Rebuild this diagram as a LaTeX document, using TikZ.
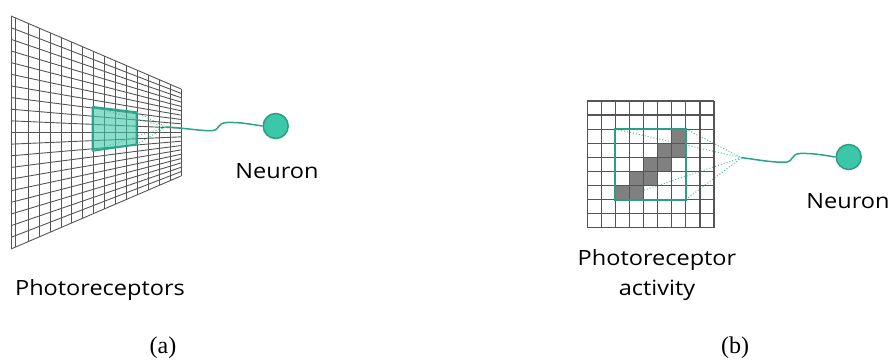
\documentclass[tikz,border=0pt]{standalone}
\usepackage{fontspec}
\setmainfont{Liberation Serif}
\newfontfamily\labelfont[FakeStretch=1.12]{Open Sans}
\definecolor{gridc}{HTML}{555555}
\definecolor{tealline}{HTML}{2AA587}
\definecolor{tealfill}{HTML}{3CC8A8}
\definecolor{tealdark}{HTML}{2E9E82}
\definecolor{tealdot}{HTML}{4FBF9F}
\definecolor{cellgray}{HTML}{808080}
\tikzset{
  gridline/.style={draw=gridc, line width=0.9pt},
  rgridline/.style={draw=gridc, line width=1.2pt},
  dotl/.style={draw=tealdot, dotted, line width=1pt},
  axon/.style={draw=tealline, line width=1.5pt},
  neuron/.style={circle, fill=tealfill, draw=tealdark, line width=1.5pt, minimum size=25pt, inner sep=0pt},
  lbl/.style={font=\labelfont\fontsize{21}{30}\selectfont, text=black, align=center, inner sep=0pt},
  sublbl/.style={font=\fontsize{24}{28}\selectfont, inner sep=0pt},
}
\begin{document}
\begin{tikzpicture}[x=1pt,y=-1pt]
\useasboundingbox (0,0) rectangle (891,361);
% ---------- (a) perspective grid ----------
\foreach \i in {0,...,20}{
  \draw[gridline] (11,{16+233*\i/20}) -- (181,{89+87*\i/20});
}
\foreach \x in {11,15,28.3,39.2,50.1,61.0,71.9,82.9,93.8,104.7,115.6,126.5,137.4,148.3,159.2,170.1,181}{
  \draw[gridline] (\x,{16+73*(\x-11)/170}) -- (\x,{249-73*(\x-11)/170});
}
% receptive patch
\coordinate (pa) at (92.7,107);
\coordinate (pb) at (136.7,112.3);
\coordinate (pc) at (136.7,144.5);
\coordinate (pd) at (92.7,150.7);
\coordinate (ca) at (166,127);
\filldraw[fill=tealfill, fill opacity=0.6, draw=tealline, line width=2pt, line join=round] (pa) -- (pb) -- (pc) -- (pd) -- cycle;
\foreach \p in {pa,pb,pc,pd}{ \draw[dotl] (\p) -- (ca); }
\node[neuron] (n1) at (275.7,126) {};
\draw[axon] (ca) .. controls (185,128) and (205,131.5) .. (213,130.5)
  .. controls (220,129.5) and (217,123) .. (227,122.5)
  .. controls (240,122) and (252,124.5) .. (n1.west);
\node[lbl] (t1) at (277,171) {Neuron};
\node[lbl] (t2) at (100,290) {Photoreceptors};
\node[sublbl] (sa) at (163,348) {(a)};
% ---------- (b) activity grid ----------
\coordinate (qa) at (615.4,129.1);
\coordinate (qb) at (685.8,129.1);
\coordinate (qc) at (685.8,199.5);
\coordinate (qd) at (615.4,199.5);
\coordinate (cb) at (741.7,157.7);
\foreach \p in {qa,qb,qc,qd}{ \draw[dotl] (\p) -- (cb); }
\foreach \c/\r in {6/2,5/3,6/3,4/4,5/4,3/5,4/5,2/6,3/6}{
  \fill[cellgray] ({587.3+14.08*\c},{101+14.08*\r}) rectangle ++(14.08,14.08);
}
\foreach \k in {0,...,9}{
  \draw[rgridline] ({587.3+14.08*\k},101) -- ({587.3+14.08*\k},227.7);
  \draw[rgridline] (587.3,{101+14.08*\k}) -- (714,{101+14.08*\k});
}
\draw[draw=tealdark, line width=2pt] (qa) rectangle (qc);
\node[neuron] (n2) at (848.7,157) {};
\draw[axon] (cb) .. controls (760,160) and (775,163) .. (787,162)
  .. controls (793,161.5) and (791,154) .. (800,153.5)
  .. controls (815,153) and (828,156) .. (n2.west);
\node[lbl] (t3) at (848,201) {Neuron};
\node[lbl] (t4) at (657,275) {Photoreceptor\\activity};
\node[sublbl] (sb) at (735,348) {(b)};
\end{tikzpicture}
\end{document}
